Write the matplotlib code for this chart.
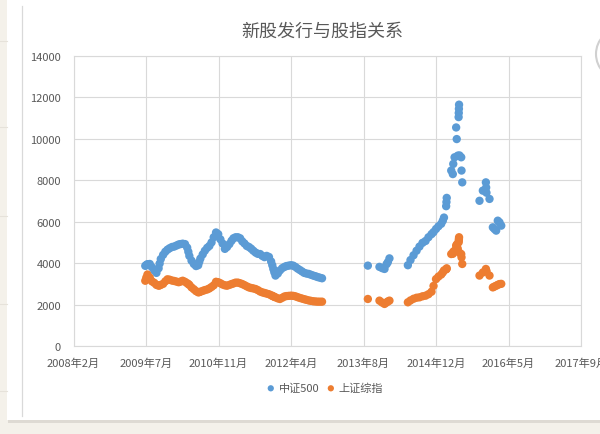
import datetime as dt
import matplotlib
matplotlib.use("Agg")
import matplotlib.pyplot as plt
from matplotlib.patches import Rectangle, Circle
from matplotlib.lines import Line2D
from matplotlib.transforms import IdentityTransform

plt.rcParams['font.family'] = ['Noto Sans CJK SC', 'DejaVu Sans']

dates = [
    "2009-07-01", "2009-07-08", "2009-07-16", "2009-08-01", "2009-08-16", "2009-09-01",
    "2009-09-16", "2009-10-01", "2009-10-08", "2009-10-16", "2009-11-01", "2009-11-16",
    "2009-12-01", "2009-12-16",
    "2010-01-01", "2010-01-16", "2010-02-01", "2010-02-16", "2010-03-01", "2010-03-16",
    "2010-04-01", "2010-04-16", "2010-04-24", "2010-05-01", "2010-05-16", "2010-06-01",
    "2010-06-16", "2010-07-01", "2010-07-08", "2010-07-16", "2010-08-01", "2010-08-16",
    "2010-09-01", "2010-09-16", "2010-10-01", "2010-10-16", "2010-11-01", "2010-11-16",
    "2010-12-01", "2010-12-16",
    "2011-01-01", "2011-01-16", "2011-02-01", "2011-02-16", "2011-03-01", "2011-03-16",
    "2011-04-01", "2011-04-16", "2011-05-01", "2011-05-16", "2011-06-01", "2011-06-16",
    "2011-07-01", "2011-07-16", "2011-08-01", "2011-08-16", "2011-09-01", "2011-09-16",
    "2011-10-01", "2011-10-16", "2011-11-01", "2011-11-16", "2011-11-24", "2011-12-01",
    "2011-12-08", "2011-12-16",
    "2012-01-01", "2012-01-16", "2012-02-01", "2012-02-16", "2012-03-01", "2012-03-16",
    "2012-04-01", "2012-04-16", "2012-05-01", "2012-05-16", "2012-06-01", "2012-06-16",
    "2012-07-01", "2012-07-16", "2012-08-01", "2012-08-16", "2012-09-01", "2012-09-16",
    "2012-10-01", "2012-10-16", "2012-11-01",
    "2013-09-13", "2013-12-02", "2013-12-20", "2014-01-06", "2014-01-20", "2014-01-29",
    "2014-02-09",
    "2014-06-16", "2014-07-04", "2014-07-25", "2014-08-15", "2014-09-04", "2014-09-25",
    "2014-10-16", "2014-11-05", "2014-11-26", "2014-12-10", "2014-12-27", "2015-01-13",
    "2015-02-01", "2015-02-12", "2015-02-20", "2015-03-07", "2015-03-09", "2015-03-11",
    "2015-04-11", "2015-04-22", "2015-04-25", "2015-05-04", "2015-05-15", "2015-05-19",
    "2015-05-26", "2015-06-01", "2015-06-02", "2015-06-03", "2015-06-04", "2015-06-07",
    "2015-06-19", "2015-06-21", "2015-06-26",
    "2015-10-23", "2015-11-15", "2015-12-06", "2015-12-08", "2015-12-10", "2015-12-31",
    "2016-01-23", "2016-02-03", "2016-02-15", "2016-02-26", "2016-03-09", "2016-03-21",
]

zz500 = [
    3870, 3910, 3950, 3960, 3800, 3640, 3530, 3750, 3980, 4200, 4400, 4550,
    4650, 4720,
    4780, 4800, 4850, 4900, 4920, 4940, 4920, 4750, 4550, 4350, 4120, 3960,
    3860, 3900, 4060, 4220, 4420, 4600, 4740, 4830, 5000, 5250, 5480, 5400,
    5150, 4950,
    4690, 4780, 4920, 5080, 5200, 5250, 5250, 5200, 5050, 4950, 4830, 4780,
    4700, 4600, 4510, 4450, 4440, 4350, 4290, 4350, 4300, 4080, 3900, 3720,
    3560, 3400,
    3500, 3650, 3760, 3820, 3860, 3880, 3900, 3880, 3820, 3740, 3670, 3600,
    3530, 3500, 3480, 3440, 3400, 3370, 3330, 3300, 3270,
    3880, 3820, 3760, 3720, 3950, 4050, 4230,
    3900, 4150, 4380, 4600, 4800, 4980, 5070, 5250, 5400, 5500, 5650, 5780,
    5900, 6050, 6200, 6750, 6950, 7150,
    8470, 8300, 8790, 9110, 10550, 9990, 9190, 11050, 11250, 11450, 11650, 9200,
    9110, 8470, 7900,
    7010, 7500, 7900, 7650, 7400, 7100, 5730, 5650, 5570, 6050, 5970, 5810,
]

szzs = [
    3150, 3300, 3450, 3300, 3120, 3050, 2950, 2910, 2930, 2950, 3000, 3120,
    3220, 3200,
    3160, 3140, 3110, 3080, 3110, 3150, 3100, 3030, 2990, 2950, 2830, 2740,
    2650, 2590, 2600, 2620, 2660, 2700, 2730, 2780, 2850, 2930, 3100, 3080,
    3030, 2970,
    2930, 2910, 2950, 2990, 3020, 3060, 3060, 3030, 2990, 2940, 2880, 2830,
    2800, 2780, 2750, 2700, 2630, 2590, 2560, 2530, 2500, 2450, 2420, 2400,
    2370, 2350,
    2300, 2270, 2330, 2390, 2410, 2420, 2430, 2420, 2400, 2360, 2320, 2290,
    2260, 2230, 2200, 2180, 2160, 2150, 2140, 2140, 2140,
    2270, 2190, 2100, 2030, 2100, 2150, 2190,
    2110, 2200, 2280, 2330, 2350, 2400, 2430, 2500, 2620, 2900, 3230, 3350,
    3450, 3550, 3650, 3700, 3720, 3750,
    4440, 4450, 4550, 4600, 4840, 4900, 4700, 5000, 5080, 5170, 5250, 4500,
    4440, 4280, 3960,
    3400, 3550, 3720, 3650, 3600, 3400, 2830, 2870, 2910, 2950, 2990, 3000,
]

title = "新股发行与股指关系"
series_names = ["中证500", "上证综指"]
colors = ["#5B9BD5", "#ED7D31"]

W, H = 600, 435
x_days = [dt.datetime.strptime(d, "%Y-%m-%d") for d in dates]

fig = plt.figure(figsize=(W / 100, H / 100), dpi=100)
fig.set_facecolor("#f4f1ea")

# screenshot card and decorations (pixel coordinates, origin bottom-left)
px = IdentityTransform()
fig.patches.append(Rectangle((8, H - 424), W, 424, transform=px,
                             facecolor="#dedad3", edgecolor="none", zorder=-3))
fig.patches.append(Rectangle((7, H - 421), W, 421, transform=px,
                             facecolor="white", edgecolor="none", zorder=-2))
fig.lines.append(Line2D([21.7, 21.7], [H - 7, H - 417], transform=px,
                        color="#d9d9d9", lw=0.9))
for yy in [42, 128, 217, 305, 392]:
    fig.lines.append(Line2D([0, 7], [H - yy, H - yy], transform=px,
                            color="#e6e2da", lw=0.8))
fig.patches.append(Circle((622, H - 55), 26, transform=px,
                          facecolor="white", edgecolor="#d0d0d0", lw=1.5))

ax = fig.add_axes([73.5 / W, (H - 347) / H, 507.5 / W, 290 / H])
ax.set_facecolor("none")

for vals, name, col in zip([zz500, szzs], series_names, colors):
    ax.scatter(x_days, vals, s=36, color=col, edgecolors="none", label=name, zorder=3)

start = dt.datetime(2008, 2, 22)
ticks = [start + dt.timedelta(days=500 * i) for i in range(8)]
ax.set_xlim(ticks[0], ticks[-1])
ax.set_xticks(ticks)
ax.set_xticklabels([f"{t.year}年{t.month}月" for t in ticks])
ax.set_ylim(0, 14000)
ax.set_yticks(range(0, 14001, 2000))

ax.grid(True, color="#d9d9d9", lw=0.8, zorder=0)
ax.set_axisbelow(True)
for sp in ax.spines.values():
    sp.set_color("#d9d9d9")
    sp.set_linewidth(0.8)
ax.tick_params(axis="both", length=0, labelsize=8, labelcolor="#595959")
ax.tick_params(axis="y", pad=9)
ax.tick_params(axis="x", pad=8)

fig.text(322 / W, 1 - 32 / H, title, ha="center", va="center",
         fontsize=13, color="#595959")

fig.legend(loc="center", bbox_to_anchor=(325 / W, 1 - 389 / H), ncol=2,
           frameon=False, fontsize=8, labelcolor="#595959", handlelength=0.7,
           handletextpad=0.35, columnspacing=0.7, markerscale=0.75, scatterpoints=1)

fig.savefig("out.png", dpi=100, facecolor=fig.get_facecolor())
